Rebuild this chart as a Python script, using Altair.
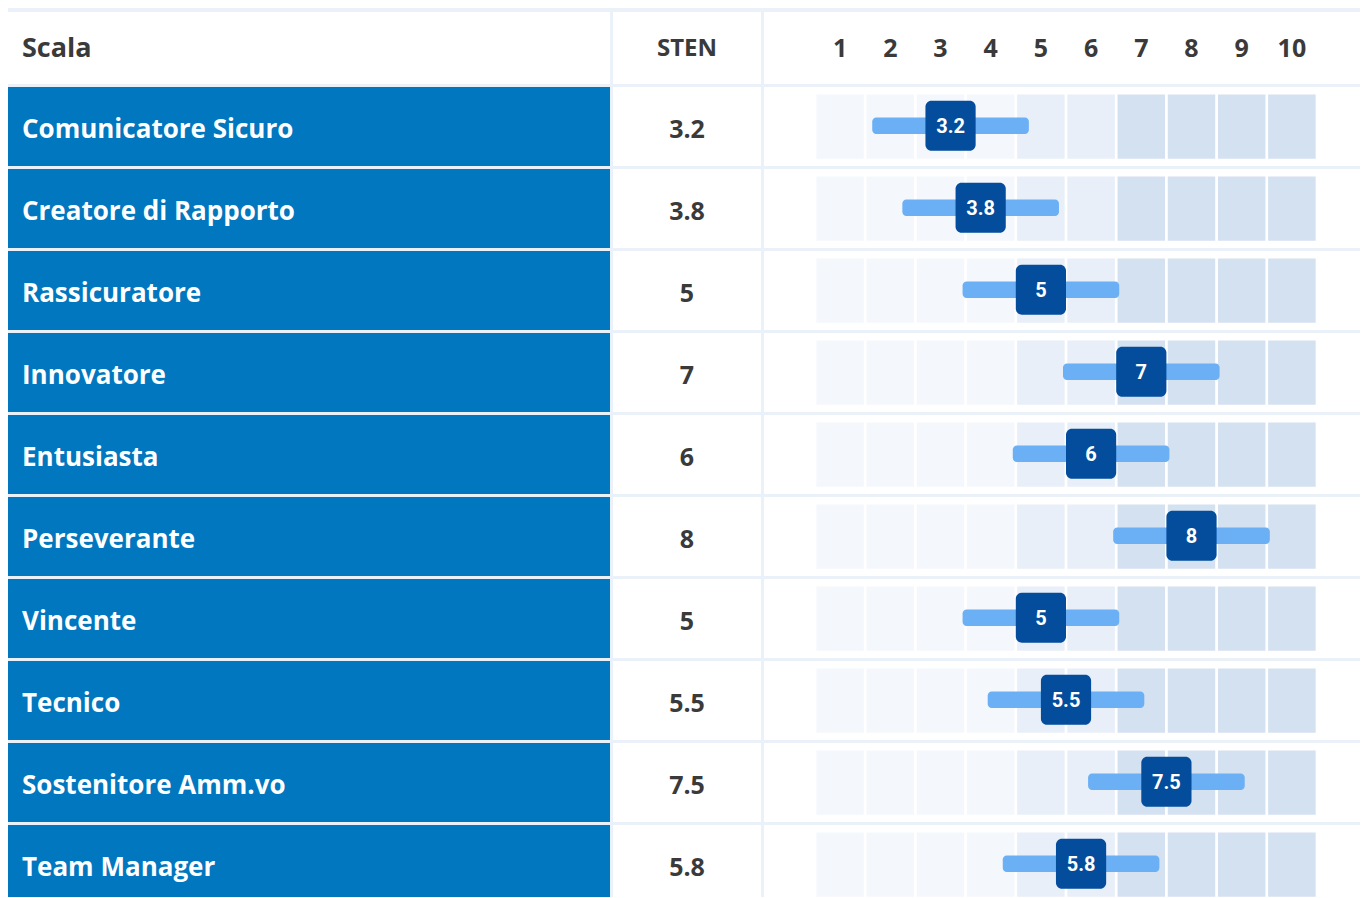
import altair as alt
import pandas as pd

# ---------------- data ----------------
scale_names = [
    "Comunicatore Sicuro", "Creatore di Rapporto", "Rassicuratore", "Innovatore",
    "Entusiasta", "Perseverante", "Vincente", "Tecnico", "Sostenitore Amm.vo", "Team Manager",
]
sten_values = [3.2, 3.8, 5, 7, 6, 8, 5, 5.5, 7.5, 5.8]
sten_labels = ["3.2", "3.8", "5", "7", "6", "8", "5", "5.5", "7.5", "5.8"]
scale_ticks = [1, 2, 3, 4, 5, 6, 7, 8, 9, 10]
tick_band = ["low", "low", "low", "low", "mid", "mid", "high", "high", "high", "high"]
header_titles = ["Scala", "STEN"]

# ---------------- layout / style constants ----------------
FONT = "Open Sans"
BOX_FONT = "Roboto"
BG = "#EAF1F9"
BLUE = "#0077BF"
DARK = "#034D9C"
LIGHT = "#6BAFF5"
TXT = "#3A3A3A"
BAND_COLORS = ["#F4F7FC", "#E8EFF8", "#D4E1F1"]

W1, W2, W3 = 602, 148, 596
HEAD_H = 72
BODY_H = 810
ROW_PITCH = 82
ROW_FRAC = 79 / 82

rows = pd.DataFrame({
    "idx": list(range(len(scale_names))),
    "Scala": scale_names,
    "STEN": sten_values,
    "label": sten_labels,
})
ticks = pd.DataFrame({"tick": scale_ticks, "band": tick_band})
cells = rows[["idx"]].merge(ticks, how="cross")

YS = alt.Scale(domain=[0, BODY_H / ROW_PITCH], reverse=True, nice=False, zero=False)
px = 50.2
X0 = 0.5 - 51 / px
XS = alt.Scale(domain=[X0, X0 + W3 / px], nice=False, zero=False)


def row_calc(ch):
    return ch.transform_calculate(
        top="datum.idx",
        bot=f"datum.idx + {ROW_FRAC}",
        tmid="datum.idx + 0.52",
        mmid="datum.idx + 0.472",
        bmid="datum.idx + 0.49",
    )


# ---------------- header row ----------------
head_df1 = pd.DataFrame({"t": [header_titles[0]]})
head_df2 = pd.DataFrame({"t": [header_titles[1]]})
HEAD_Y = 37

h1 = alt.Chart(head_df1).mark_text(
    align="left", baseline="middle", font=FONT, fontSize=27, fontWeight="bold", color=TXT
).encode(x=alt.value(14), y=alt.value(HEAD_Y), text="t:N").properties(
    width=W1, height=HEAD_H, view=alt.ViewBackground(fill="white", stroke=None)
)
h2 = alt.Chart(head_df2).mark_text(
    align="center", baseline="middle", font=FONT, fontSize=24, fontWeight="bold", color=TXT
).encode(x=alt.value(W2 / 2), y=alt.value(HEAD_Y), text="t:N").properties(
    width=W2, height=HEAD_H, view=alt.ViewBackground(fill="white", stroke=None)
)
h3 = alt.Chart(ticks).mark_text(
    align="center", baseline="middle", font=FONT, fontSize=25, fontWeight="bold", color=TXT
).encode(
    x=alt.X("tick:Q", scale=XS, axis=None), y=alt.value(HEAD_Y), text="tick:N"
).properties(width=W3, height=HEAD_H, view=alt.ViewBackground(fill="white", stroke=None))

header = alt.hconcat(h1, h2, h3, spacing=3)

# ---------------- body: label column ----------------
b1_bg = row_calc(alt.Chart(rows)).mark_rect(color=BLUE, clip=True).encode(
    x=alt.value(0), x2=alt.value("width"),
    y=alt.Y("top:Q", scale=YS, axis=None), y2="bot:Q",
)
b1_tx = row_calc(alt.Chart(rows)).mark_text(
    align="left", baseline="middle", font=FONT, fontSize=26, fontWeight="bold",
    color="white", clip=True,
).encode(x=alt.value(14), y=alt.Y("tmid:Q", scale=YS, axis=None), text="Scala:N")
b1 = alt.layer(b1_bg, b1_tx).properties(width=W1, height=BODY_H)

# ---------------- body: STEN column ----------------
b2_bg = row_calc(alt.Chart(rows)).mark_rect(color="white", clip=True).encode(
    x=alt.value(0), x2=alt.value("width"),
    y=alt.Y("top:Q", scale=YS, axis=None), y2="bot:Q",
)
b2_tx = row_calc(alt.Chart(rows)).mark_text(
    align="center", baseline="middle", font=FONT, fontSize=25, fontWeight="bold",
    color=TXT, clip=True,
).encode(x=alt.value(W2 / 2), y=alt.Y("tmid:Q", scale=YS, axis=None), text="label:N")
b2 = alt.layer(b2_bg, b2_tx).properties(width=W2, height=BODY_H)

# ---------------- body: scale column ----------------
b3_bg = row_calc(alt.Chart(rows)).mark_rect(color="white", clip=True).encode(
    x=alt.value(0), x2=alt.value("width"),
    y=alt.Y("top:Q", scale=YS, axis=None), y2="bot:Q",
)
b3_cells = alt.Chart(cells).transform_calculate(
    cx0="datum.tick - 0.473", cx1="datum.tick + 0.473",
    ct="datum.idx + 0.091", cb="datum.idx + 0.876",
).mark_rect(clip=True).encode(
    x=alt.X("cx0:Q", scale=XS, axis=None), x2="cx1:Q",
    y=alt.Y("ct:Q", scale=YS, axis=None), y2="cb:Q",
    color=alt.Color("band:N", scale=alt.Scale(domain=["low", "mid", "high"], range=BAND_COLORS), legend=None),
)
b3_bar = alt.Chart(rows).transform_calculate(
    bx0="datum.STEN - 1.56", bx1="datum.STEN + 1.56",
    by0="datum.idx + 0.472 - 0.1", by1="datum.idx + 0.472 + 0.1",
).mark_rect(color=LIGHT, cornerRadius=4, clip=True).encode(
    x=alt.X("bx0:Q", scale=XS, axis=None), x2="bx1:Q",
    y=alt.Y("by0:Q", scale=YS, axis=None), y2="by1:Q",
)
b3_box = alt.Chart(rows).transform_calculate(
    kx0="datum.STEN - 0.5", kx1="datum.STEN + 0.5",
    ky0="datum.idx + 0.472 - 0.305", ky1="datum.idx + 0.472 + 0.305",
).mark_rect(color=DARK, cornerRadius=6, clip=True).encode(
    x=alt.X("kx0:Q", scale=XS, axis=None), x2="kx1:Q",
    y=alt.Y("ky0:Q", scale=YS, axis=None), y2="ky1:Q",
)
b3_txt = row_calc(alt.Chart(rows)).mark_text(
    align="center", baseline="middle", font=BOX_FONT, fontSize=20, fontWeight="bold",
    color="white", clip=True,
).encode(
    x=alt.X("STEN:Q", scale=XS, axis=None),
    y=alt.Y("bmid:Q", scale=YS, axis=None), text="label:N",
)
b3 = alt.layer(b3_bg, b3_cells, b3_bar, b3_box, b3_txt).properties(width=W3, height=BODY_H)

body = alt.hconcat(b1, b2, b3, spacing=3)

chart = alt.vconcat(header, body, spacing=3).properties(
    background=BG, padding={"top": 4, "left": 0, "right": 0, "bottom": 0}
).configure_view(stroke=None).configure_concat(spacing=3)

chart.save("out.html", embed_options={"renderer": "svg", "actions": False})
